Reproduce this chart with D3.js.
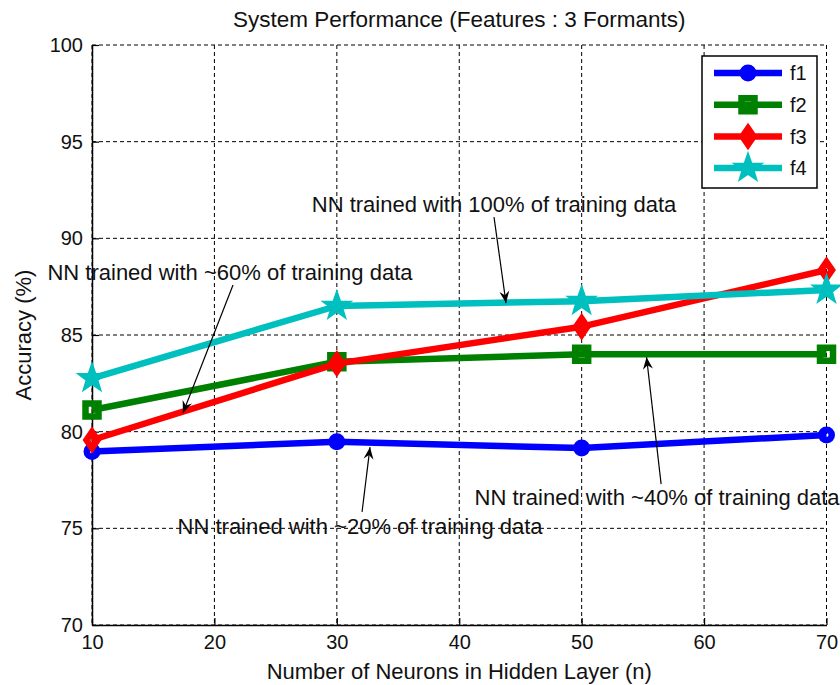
<!DOCTYPE html>
<html>
<head>
<meta charset="utf-8">
<script src="https://cdn.jsdelivr.net/npm/d3@7"></script>
<style>
  html, body { margin: 0; padding: 0; background: #fff; }
  svg { display: block; }
  text { font-family: "Liberation Sans", Arial, sans-serif; fill: #111; }
</style>
</head>
<body>
<svg id="chart" width="840" height="685"></svg>
<script>
// Number of neurons in the hidden layer
const neurons = [10, 30, 50, 70];

// Accuracy (%) for each training-data share
const f1 = [78.97, 79.48, 79.15, 79.83];
const f2 = [81.12, 83.62, 84.0, 84.0];
const f3 = [79.57, 83.52, 85.43, 88.36];
const f4 = [82.76, 86.5, 86.75, 87.33];

const seriesNames = ["f1", "f2", "f3", "f4"];
const seriesColors = ["#0000ff", "#008000", "#ff0000", "#00bfbf"];
const seriesMarkers = ["circle", "square", "diamond", "star"];

const xTicks = [10, 20, 30, 40, 50, 60, 70];
const yTicks = [70, 75, 80, 85, 90, 95, 100];

// Text annotations with arrows, in data units: text centre, arrow tail, arrow head
const noteTexts = [
  "NN trained with 100% of training data",
  "NN trained with ~60% of training data",
  "NN trained with ~40% of training data",
  "NN trained with ~20% of training data"
];
const noteTextPos = [[42.84, 91.78], [21.27, 88.26], [56.16, 76.62], [31.9, 75.12]];
const noteTail = [[42.84, 91.1], [21.52, 87.59], [56.49, 77.29], [32.06, 75.85]];
const noteHead = [[43.82, 86.65], [17.43, 80.97], [55.3, 83.85], [32.71, 79.2]];

const titleText = "System Performance (Features : 3 Formants)";
const xLabel = "Number of Neurons in Hidden Layer (n)";
const yLabel = "Accuracy (%)";

const svg = d3.select("#chart");
const x = d3.scaleLinear().domain([10, 70]).range([92, 826.5]);
const y = d3.scaleLinear().domain([70, 100]).range([625, 45]);

const series = [f1, f2, f3, f4].map((vals, i) => ({
  name: seriesNames[i], color: seriesColors[i], marker: seriesMarkers[i],
  points: neurons.map((n, j) => [n, vals[j]])
}));

// dashed grid
const grid = svg.append("g").attr("stroke", "#000").attr("stroke-width", 1)
  .attr("stroke-dasharray", "4,3");
grid.selectAll("line.gx").data(xTicks).join("line")
  .attr("x1", d => x(d)).attr("x2", d => x(d))
  .attr("y1", y(100)).attr("y2", y(70));
grid.selectAll("line.gy").data(yTicks).join("line")
  .attr("x1", x(10)).attr("x2", x(70))
  .attr("y1", d => y(d)).attr("y2", d => y(d));

// axes (ticks pointing inward)
const xAxis = svg.append("g").attr("transform", `translate(0,${y(70)})`)
  .call(d3.axisBottom(x).tickValues(xTicks).tickFormat(d3.format("d"))
    .tickSizeInner(-7).tickSizeOuter(0).tickPadding(10));
const yAxis = svg.append("g").attr("transform", `translate(${x(10)},0)`)
  .call(d3.axisLeft(y).tickValues(yTicks).tickFormat(d3.format("d"))
    .tickSizeInner(-7).tickSizeOuter(0).tickPadding(9));
[xAxis, yAxis].forEach(g => {
  g.select(".domain").attr("stroke", "#000").attr("stroke-width", 1.5);
  g.selectAll(".tick line").attr("stroke", "#000").attr("stroke-width", 1.2);
  g.selectAll(".tick text").attr("font-size", 20).attr("fill", "#111")
    .attr("font-family", "Liberation Sans, Arial, sans-serif");
});

// marker shapes
function markerPath(type) {
  switch (type) {
    case "circle": { const p = d3.path(); p.arc(0, 0, 5.25, 0, 2 * Math.PI); p.closePath(); return p.toString(); }
    case "square": return "M-6.5,-6.5H6.5V6.5H-6.5Z";
    case "diamond": return "M0,-8L5.5,0L0,8L-5.5,0Z";
    case "star": {
      const R = 15, r = 6; let s = "";
      for (let k = 0; k < 10; k++) {
        const a = -Math.PI / 2 + k * Math.PI / 5, rad = k % 2 ? r : R;
        s += (k ? "L" : "M") + (rad * Math.cos(a)).toFixed(2) + "," + (rad * Math.sin(a)).toFixed(2);
      }
      return s + "Z";
    }
  }
}
function drawMarker(sel, s) {
  if (s.marker === "star") {
    sel.attr("d", markerPath("star")).attr("fill", s.color).attr("stroke", s.color)
      .attr("stroke-width", 1.5).attr("stroke-linejoin", "miter");
  } else {
    sel.attr("d", markerPath(s.marker)).attr("fill", "none").attr("stroke", s.color)
      .attr("stroke-width", 6.5).attr("stroke-linejoin", "miter");
  }
}

// series lines + markers
const line = d3.line().x(d => x(d[0])).y(d => y(d[1]));
series.forEach(s => {
  const g = svg.append("g");
  g.append("path").attr("d", line(s.points)).attr("fill", "none")
    .attr("stroke", s.color).attr("stroke-width", 6.5).attr("stroke-linejoin", "round");
  g.selectAll("path.m").data(s.points).join("path").attr("class", "m")
    .attr("transform", d => `translate(${x(d[0])},${y(d[1])})`)
    .call(sel => drawMarker(sel, s));
});

// annotations
function arrowHead(tx, ty, hx, hy) {
  const dx = hx - tx, dy = hy - ty, len = Math.hypot(dx, dy);
  const ux = dx / len, uy = dy / len, px = -uy, py = ux;
  const L = 12, W = 5, N = 8;
  return `M${hx},${hy}L${hx - ux * L + px * W},${hy - uy * L + py * W}` +
    `L${hx - ux * N},${hy - uy * N}L${hx - ux * L - px * W},${hy - uy * L - py * W}Z`;
}
const notes = svg.append("g");
noteTexts.forEach((t, i) => {
  const [tx, ty] = [x(noteTail[i][0]), y(noteTail[i][1])];
  const [hx, hy] = [x(noteHead[i][0]), y(noteHead[i][1])];
  notes.append("line").attr("x1", tx).attr("y1", ty).attr("x2", hx).attr("y2", hy)
    .attr("stroke", "#000").attr("stroke-width", 1.2);
  notes.append("path").attr("d", arrowHead(tx, ty, hx, hy)).attr("fill", "#000");
  notes.append("text").attr("x", x(noteTextPos[i][0])).attr("y", y(noteTextPos[i][1]))
    .attr("dy", "0.36em").attr("text-anchor", "middle").attr("font-size", 22).text(t);
});

// legend
const lg = svg.append("g");
lg.append("rect").attr("x", 702).attr("y", 56).attr("width", 115).attr("height", 132)
  .attr("fill", "#fff").attr("stroke", "#000").attr("stroke-width", 1.5);
series.forEach((s, i) => {
  const cy = 73 + i * 31.7;
  lg.append("line").attr("x1", 714).attr("x2", 782).attr("y1", cy).attr("y2", cy)
    .attr("stroke", s.color).attr("stroke-width", 6.5);
  lg.append("path").attr("transform", `translate(748,${cy})`).call(sel => drawMarker(sel, s));
  lg.append("text").attr("x", 790).attr("y", cy).attr("dy", "0.36em")
    .attr("font-size", 20).text(s.name);
});

// title and axis labels
svg.append("text").attr("x", (x(10) + x(70)) / 2).attr("y", 27)
  .attr("text-anchor", "middle").attr("font-size", 22.5).text(titleText);
svg.append("text").attr("x", (x(10) + x(70)) / 2).attr("y", 679)
  .attr("text-anchor", "middle").attr("font-size", 22).text(xLabel);
svg.append("text").attr("transform", `translate(31,${(y(70) + y(100)) / 2}) rotate(-90)`)
  .attr("text-anchor", "middle").attr("font-size", 22).text(yLabel);
</script>
</body>
</html>
